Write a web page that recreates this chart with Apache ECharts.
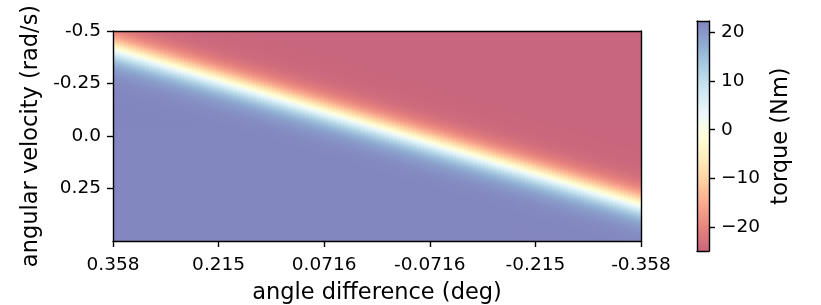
<!DOCTYPE html>
<html><head><meta charset="utf-8">
<script src="https://cdn.jsdelivr.net/npm/echarts@6/dist/echarts.min.js"></script>
<style>html,body{margin:0;padding:0;background:#fff;}#c{width:821px;height:305px;}</style>
</head><body><div id="c"></div>
<script>
// ---- data ----
const xTickValues = [0.358, 0.2148, 0.0716, -0.0716, -0.2148, -0.358];
const xTickLabels = ['0.358', '0.215', '0.0716', '-0.0716', '-0.215', '-0.358'];
const yTickValues = [-0.5, -0.25, 0, 0.25];
const yTickLabels = ['-0.5', '-0.25', '0.0', '0.25'];
const cbarTickValues = [20, 10, 0, -10, -20];
const cbarTickLabels = ['20', '10', '0', '\u221210', '\u221220'];
// angular velocity (rad/s) where torque crosses the middle of the colour range, read at each x tick
const boundaryVelocity = [-0.418, -0.269, -0.120, 0.029, 0.177, 0.326];
const torqueRange = [-24.87, 22.3];          // colourbar min / max (Nm)
const transitionSharpness = [13];           // steepness of the band, 1/(rad/s)
const xExtent = [0.358, -0.358];
const yExtent = [-0.5, 0.5];
// RdYlBu at alpha 0.6 over white (low -> high)
const cmapColors = ['#c9667d', '#e7837d', '#f8a78e', '#fecea0', '#feecbc', '#ffffd9',
  '#ecf8fb', '#cde8f2', '#acceE3', '#8facd2', '#8386bf'];

// ---- build grid of cells ----
const NX = 132, NY = 105, NC = 115;
const dx = (xExtent[0] - xExtent[1]) / NX;
const dy = (yExtent[1] - yExtent[0]) / NY;
const dc = (torqueRange[1] - torqueRange[0]) / NC;
const tMid = (torqueRange[0] + torqueRange[1]) / 2;
const tAmp = (torqueRange[1] - torqueRange[0]) / 2;
function boundaryAt(x) {
  const t = (xExtent[0] - x) / (xExtent[0] - xExtent[1]) * (boundaryVelocity.length - 1);
  const k = Math.min(boundaryVelocity.length - 2, Math.max(0, Math.floor(t)));
  const f = t - k;
  return boundaryVelocity[k] * (1 - f) + boundaryVelocity[k + 1] * f;
}
const field = [];
for (let j = 0; j < NX; j++) {
  const x = xExtent[0] - (j + 0.5) * dx;
  const vb = boundaryAt(x);
  for (let i = 0; i < NY; i++) {
    const v = yExtent[0] + (i + 0.5) * dy;
    field.push([x, v, tMid + tAmp * Math.tanh(transitionSharpness[0] * (v - vb))]);
  }
}
const cbar = [];
for (let k = 0; k < NC; k++) {
  const t = torqueRange[0] + (k + 0.5) * dc;
  cbar.push([0.5, t, t]);
}

function cellRenderer(hw, hh) {
  return function (params, api) {
    const cx = api.value(0), cy = api.value(1);
    const p1 = api.coord([cx - hw, cy - hh]);
    const p2 = api.coord([cx + hw, cy + hh]);
    const x0 = Math.min(p1[0], p2[0]) - 0.4, x1 = Math.max(p1[0], p2[0]) + 0.4;
    const y0 = Math.min(p1[1], p2[1]) - 0.4, y1 = Math.max(p1[1], p2[1]) + 0.4;
    return {type: 'rect', shape: {x: x0, y: y0, width: x1 - x0, height: y1 - y0},
      style: {fill: api.visual('color')}, silent: true};
  };
}

// ---- chart ----
const FONT = 'DejaVu Sans';
const black = '#000';
const line = {show: true, onZero: false, lineStyle: {color: black, width: 1.4}};
const frameOnly = {axisLine: line, axisTick: {show: false}, axisLabel: {show: false}, splitLine: {show: false}, z: 10};
function labelFor(values, labels) {
  return function (val) {
    for (let i = 0; i < values.length; i++) if (Math.abs(values[i] - val) < 1e-6) return labels[i];
    return '';
  };
}
const tickStyle = {show: true, length: 6, lineStyle: {color: black, width: 1.4}};
const labelStyle = {show: true, margin: 12, color: black, fontFamily: FONT, fontSize: 18.5};
const nameStyle = {color: black, fontFamily: FONT, fontSize: 22.5};
const chart = echarts.init(document.getElementById('c'), null, {renderer: 'canvas'});
chart.setOption({
  animation: false,
  backgroundColor: '#fff',
  grid: [
    {left: 113, top: 31, width: 528, height: 210, containLabel: false, outerBoundsMode: 'none'},
    {left: 697, top: 21, width: 12, height: 230, containLabel: false, outerBoundsMode: 'none'}
  ],
  xAxis: [
    {type: 'value', gridIndex: 0, position: 'bottom', min: xExtent[1], max: xExtent[0], inverse: true, z: 10,
      axisLine: line, splitLine: {show: false},
      axisTick: Object.assign({customValues: xTickValues}, tickStyle),
      axisLabel: Object.assign({customValues: xTickValues, formatter: labelFor(xTickValues, xTickLabels)}, labelStyle, {margin: 15}),
      name: 'angle difference (deg)', nameLocation: 'middle', nameGap: 41, nameTextStyle: nameStyle},
    Object.assign({type: 'value', gridIndex: 0, position: 'top', min: 0, max: 1}, frameOnly),
    Object.assign({type: 'value', gridIndex: 1, position: 'bottom', min: 0, max: 1}, frameOnly),
    Object.assign({type: 'value', gridIndex: 1, position: 'top', min: 0, max: 1}, frameOnly)
  ],
  yAxis: [
    {type: 'value', gridIndex: 0, position: 'left', min: yExtent[0], max: yExtent[1], inverse: true, z: 10,
      axisLine: line, splitLine: {show: false},
      axisTick: Object.assign({customValues: yTickValues}, tickStyle),
      axisLabel: Object.assign({customValues: yTickValues, formatter: labelFor(yTickValues, yTickLabels)}, labelStyle),
      name: 'angular velocity (rad/s)', nameLocation: 'middle', nameGap: 70, nameTextStyle: nameStyle},
    Object.assign({type: 'value', gridIndex: 0, position: 'right', min: 0, max: 1}, frameOnly),
    Object.assign({type: 'value', gridIndex: 1, position: 'left', min: 0, max: 1}, frameOnly),
    {type: 'value', gridIndex: 1, position: 'right', min: torqueRange[0], max: torqueRange[1], z: 10,
      axisLine: line, splitLine: {show: false},
      axisTick: Object.assign({customValues: cbarTickValues}, tickStyle),
      axisLabel: Object.assign({customValues: cbarTickValues, formatter: labelFor(cbarTickValues, cbarTickLabels)}, labelStyle),
      name: 'torque (Nm)', nameLocation: 'middle', nameGap: 61, nameRotate: 90, nameTextStyle: nameStyle}
  ],
  visualMap: {
    show: false, type: 'continuous', seriesIndex: [0, 1], dimension: 2,
    min: torqueRange[0], max: torqueRange[1], inRange: {color: cmapColors}
  },
  series: [
    {type: 'custom', xAxisIndex: 0, yAxisIndex: 0, data: field, progressive: 0, silent: true, clip: true,
      renderItem: cellRenderer(dx / 2, dy / 2)},
    {type: 'custom', xAxisIndex: 2, yAxisIndex: 3, data: cbar, progressive: 0, silent: true, clip: true,
      renderItem: cellRenderer(0.5, dc / 2)}
  ]
});
</script></body></html>
